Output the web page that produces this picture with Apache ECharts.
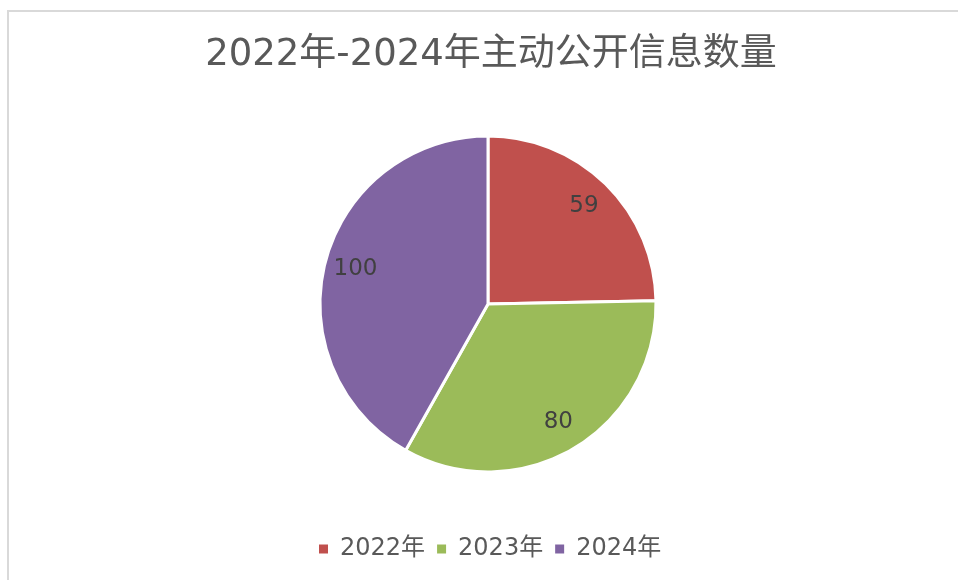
<!DOCTYPE html>
<html>
<head>
<meta charset="utf-8">
<style>
  html, body { margin: 0; padding: 0; background: #fff; }
  #main { width: 958px; height: 580px; }
</style>
<script src="https://cdn.jsdelivr.net/npm/echarts@6/dist/echarts.min.js"></script>
</head>
<body>
<div id="main"></div>
<script>
var years = ["2022年", "2023年", "2024年"];
var counts = [59, 80, 100];
var colors = ["#C0504D", "#9BBB59", "#8064A2"];

function init_pie_chart(container) {
  var chartDom = document.getElementById(container);
  var myChart = echarts.init(chartDom);
  var font = "DejaVu Sans, Noto Sans CJK SC, sans-serif";

  var pieData = years.map(function (name, i) {
    return { name: name, value: counts[i], itemStyle: { color: colors[i] } };
  });

  var option = {
    animation: false,
    title: {
      text: "2022年-2024年主动公开信息数量",
      left: 486,
      textAlign: "center",
      top: 32,
      textStyle: {
        color: "#595959",
        fontSize: 37,
        fontWeight: "normal",
        fontFamily: font,
      },
    },
    graphic: [
      {
        type: "rect",
        shape: { x: 8, y: 11, width: 1000, height: 600 },
        style: { fill: "none", stroke: "#d9d9d9", lineWidth: 2 },
        silent: true,
      },
    ],
    legend: {
      data: years,
      bottom: 14,
      left: 312,
      icon: "rect",
      itemWidth: 11,
      itemHeight: 11,
      itemGap: 10,
      textStyle: {
        color: "#595959",
        fontSize: 24,
        fontFamily: font,
        padding: [0, 0, 0, 6],
      },
    },
    series: [
      {
        type: "pie",
        center: [488, 304],
        radius: 168,
        startAngle: 90,
        clockwise: true,
        label: { show: false },
        labelLine: { show: false },
        itemStyle: { borderColor: "#fff", borderWidth: 3 },
        data: pieData,
      },
      {
        // transparent copy only to place the value labels nearer the rim
        type: "pie",
        center: [488, 304],
        radius: [100, 168],
        startAngle: 90,
        clockwise: true,
        silent: true,
        label: {
          show: true,
          position: "inside",
          formatter: "{c}",
          color: "#404040",
          fontSize: 23,
          fontFamily: font,
        },
        labelLine: { show: false },
        itemStyle: { color: "rgba(0,0,0,0)" },
        emphasis: { disabled: true },
        data: years.map(function (name, i) {
          return { name: name, value: counts[i] };
        }),
      },
    ],
  };

  option && myChart.setOption(option);
}
init_pie_chart("main");
</script>
</body>
</html>
